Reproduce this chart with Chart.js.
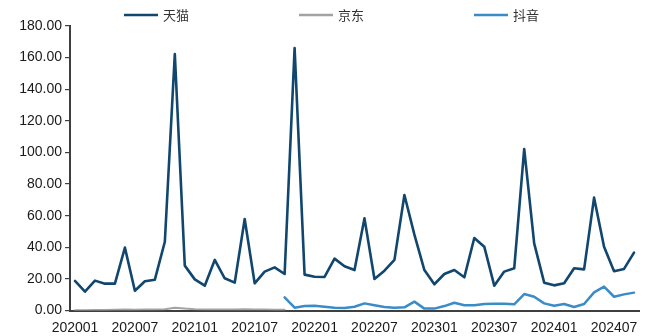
<!DOCTYPE html>
<html>
<head>
<meta charset="utf-8">
<script src="https://cdn.jsdelivr.net/npm/chart.js@4/dist/chart.umd.min.js"></script>
<style>
  html, body { margin: 0; padding: 0; background: #ffffff; }
  #wrap { width: 649px; height: 336px; position: relative; }
</style>
</head>
<body>
<div id="wrap"><canvas id="c" width="649" height="336"></canvas></div>
<script>
// Monthly periods 202001 .. 202409
const months = [];
for (let y = 2020; y <= 2024; y++) {
  for (let m = 1; m <= 12; m++) {
    if (y === 2024 && m > 9) break;
    months.push(String(y) + String(m).padStart(2, '0'));
  }
}

const seriesNames = ['天猫', '京东', '抖音'];

const tmall = [
  18.7, 11.9, 18.9, 17.0, 17.0, 39.8, 12.5, 18.5, 19.5, 43.5,
  162.3, 28.4, 19.7, 15.7, 32.0, 20.4, 17.6, 57.9, 17.2, 24.6,
  27.3, 23.1, 166.0, 22.7, 21.4, 21.2, 32.8, 28.0, 25.6, 58.3,
  19.9, 25.2, 32.0, 73.1, 48.0, 25.6, 16.6, 23.1, 25.6, 21.0,
  45.9, 40.4, 15.7, 24.6, 26.7, 102.2, 42.5, 17.6, 15.9, 17.2,
  26.7, 26.0, 71.4, 40.4, 24.8, 26.3, 36.6
];

const jd = [
  0.2, 0.2, 0.3, 0.3, 0.5, 0.6, 0.5, 0.6, 0.7, 0.8,
  1.8, 1.2, 0.8, 0.7, 0.6, 0.6, 0.7, 0.8, 0.6, 0.6,
  0.5, 0.4, null, null, null, null, null, null, null, null,
  null, null, null, null, null, null, null, null, null, null,
  null, null, null, null, null, null, null, null, null, null,
  null, null, null, null, null, null, null
];

const douyin = [
  null, null, null, null, null, null, null, null, null, null,
  null, null, null, null, null, null, null, null, null, null,
  null, 8.3, 1.8, 2.8, 3.0, 2.4, 1.8, 1.6, 2.4, 4.5,
  3.3, 2.2, 1.8, 2.0, 5.6, 1.2, 1.2, 2.8, 4.9, 3.3,
  3.3, 4.1, 4.3, 4.3, 3.9, 10.4, 8.7, 4.5, 3.0, 4.1,
  2.2, 4.1, 11.5, 15.1, 8.7, 10.2, 11.3
];

const yTicks = { min: 0, max: 180, step: 20 };

const tickFont = { family: '"Liberation Sans", Arial, sans-serif', size: 14 };
const axisColor = '#3f3f3f';

// Legend drawn across the top: a short line followed by the series name
const topLegend = {
  id: 'topLegend',
  afterDraw(chart) {
    const ctx = chart.ctx;
    const xs = [124, 299, 474];
    const y = 15;
    ctx.save();
    chart.data.datasets.forEach((ds, i) => {
      ctx.strokeStyle = ds.borderColor;
      ctx.lineWidth = 2.5;
      ctx.beginPath();
      ctx.moveTo(xs[i], y);
      ctx.lineTo(xs[i] + 34, y);
      ctx.stroke();
      ctx.fillStyle = '#333333';
      ctx.font = '13px "Noto Sans CJK SC", sans-serif';
      ctx.textBaseline = 'middle';
      ctx.textAlign = 'left';
      ctx.fillText(ds.label, xs[i] + 39, y);
    });
    ctx.restore();
  }
};

new Chart(document.getElementById('c'), {
  type: 'line',
  data: {
    labels: months,
    datasets: [
      { label: seriesNames[0], data: tmall, borderColor: '#11466f', borderWidth: 2.6 },
      { label: seriesNames[1], data: jd, borderColor: '#a3a3a3', borderWidth: 2 },
      { label: seriesNames[2], data: douyin, borderColor: '#3a8cc8', borderWidth: 2.5 }
    ]
  },
  options: {
    responsive: false,
    animation: false,
    devicePixelRatio: 1,
    layout: { padding: { top: 26, right: 10, bottom: 0, left: 0 } },
    elements: {
      point: { radius: 0 },
      line: { tension: 0, borderCapStyle: 'round', borderJoinStyle: 'round' }
    },
    plugins: {
      legend: { display: false },
      tooltip: { enabled: false }
    },
    scales: {
      x: {
        type: 'category',
        offset: true,
        grid: { display: false, drawTicks: false },
        border: { display: true, color: axisColor, width: 2 },
        ticks: {
          autoSkip: false,
          maxRotation: 0,
          minRotation: 0,
          padding: 9,
          color: '#1a1a1a',
          font: tickFont,
          callback: function (v, i) { return i % 6 === 0 ? this.getLabelForValue(v) : ''; }
        },
        afterFit(scale) { scale.height = 25.5; }
      },
      y: {
        min: yTicks.min,
        max: yTicks.max,
        grid: { display: true, drawOnChartArea: false, drawTicks: true, tickLength: 5, color: axisColor, lineWidth: 1.2 },
        border: { display: true, color: axisColor, width: 2 },
        ticks: {
          stepSize: yTicks.step,
          padding: 3,
          color: '#1a1a1a',
          font: tickFont,
          callback: v => Number(v).toFixed(2)
        },
        afterFit(scale) { scale.width = 70; }
      }
    }
  },
  plugins: [topLegend]
});
</script>
</body>
</html>
